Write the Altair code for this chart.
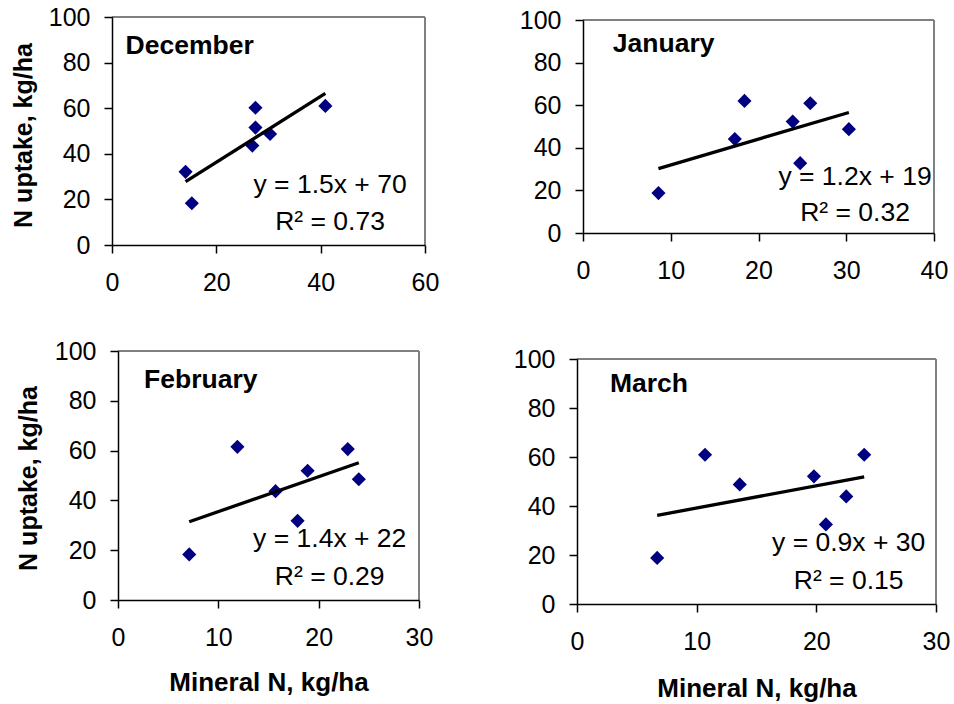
import altair as alt
import pandas as pd

W, H = 954, 704
FONT = "Liberation Sans"

# ---- data ----
months = ["December", "January", "February", "March"]
dec_x = [14.1, 15.3, 26.9, 27.5, 27.5, 30.3, 40.9]
dec_y = [32.1, 18.3, 43.6, 51.5, 60.2, 48.7, 61.0]
jan_x = [8.6, 17.3, 18.4, 23.9, 24.75, 25.9, 30.3]
jan_y = [18.75, 44.1, 62.0, 52.3, 32.8, 60.9, 48.75]
feb_x = [7.1, 11.9, 15.7, 17.9, 18.9, 22.9, 24.0]
feb_y = [18.3, 61.5, 43.7, 31.8, 51.9, 60.6, 48.5]
mar_x = [6.7, 10.7, 13.6, 19.8, 20.8, 22.5, 24.0]
mar_y = [18.8, 60.9, 48.8, 52.1, 32.5, 43.9, 60.9]
x_max = [60, 40, 30, 30]
x_ticks = [[0, 20, 40, 60], [0, 10, 20, 30, 40], [0, 10, 20, 30], [0, 10, 20, 30]]
y_ticks = [0, 20, 40, 60, 80, 100]
equations = ["y = 1.5x + 70", "y = 1.2x + 19", "y = 1.4x + 22", "y = 0.9x + 30"]
r_squared = ["R² = 0.73", "R² = 0.32", "R² = 0.29", "R² = 0.15"]
x_title = "Mineral N, kg/ha"
y_title = "N uptake, kg/ha"

# ---- layout (pixels of each plot area, annotation anchors in data units) ----
plot_x = [(112, 425), (583, 934), (118, 419), (577, 936)]
plot_y = [(245, 17), (233, 20), (600, 351), (604, 359)]
month_pos = [(2.6, 83.8), (3.4, 85.1), (2.6, 85.3), (2.75, 86.4)]
eq_x = [41.8, 31.0, 21.1, 22.7]
eq_y1 = [22.8, 22.6, 21.1, 21.5]
eq_y2 = [6.6, 5.4, 6.0, 6.1]
show_x_title = [False, False, True, True]
show_y_title = [True, False, True, False]
y_title_pos = [(31, 135), None, (36, 478), None]
x_title_base = [None, None, 690, 696]

series = [(dec_x, dec_y), (jan_x, jan_y), (feb_x, feb_y), (mar_x, mar_y)]


def panel(i):
    xs, ys = series[i]
    df = pd.DataFrame({"x": xs, "y": ys})
    px, py = plot_x[i], plot_y[i]

    xaxis_kw = dict(
        orient="bottom", offset=py[0] - H, values=x_ticks[i], grid=False,
        domainColor="black", domainWidth=1.5, tickColor="black", tickWidth=1.5,
        tickSize=8, labelFontSize=25, labelFont=FONT, labelColor="black",
        labelPadding=17, labelFlush=False, labelOverlap=False, zindex=1,
    )
    if show_x_title[i]:
        xaxis_kw.update(title=x_title, titleFont=FONT, titleFontSize=26,
                        titleFontWeight="bold", titleColor="black",
                        titleY=x_title_base[i] - py[0], titleBaseline="alphabetic")
    else:
        xaxis_kw.update(title=None)
    yaxis_kw = dict(
        orient="left", offset=-px[0], values=y_ticks, grid=False,
        domainColor="black", domainWidth=1.5, tickColor="black", tickWidth=1.5,
        tickSize=8, labelFontSize=25, labelFont=FONT, labelColor="black",
        labelPadding=14, labelFlush=False, labelOverlap=False, zindex=1,
    )
    if show_y_title[i]:
        tx, ty = y_title_pos[i]
        yaxis_kw.update(title=y_title, titleFont=FONT, titleFontSize=25,
                        titleFontWeight="bold", titleColor="black",
                        titleX=tx - px[0], titleY=ty, titleBaseline="alphabetic",
                        titleAngle=270)
    else:
        yaxis_kw.update(title=None)

    xs_scale = alt.Scale(domain=[0, x_max[i]], range=list(px), nice=False, zero=False)
    ys_scale = alt.Scale(domain=[0, 100], range=list(py), nice=False, zero=False)
    X = alt.X("x:Q", scale=xs_scale, axis=alt.Axis(**xaxis_kw))
    Y = alt.Y("y:Q", scale=ys_scale, axis=alt.Axis(**yaxis_kw))

    one = pd.DataFrame({"k": [0]})
    top = alt.Chart(one).mark_rule(color="#808080", strokeWidth=2).encode(
        x=alt.datum(0), x2=alt.datum(x_max[i]), y=alt.datum(100))
    right = alt.Chart(one).mark_rule(color="#808080", strokeWidth=2).encode(
        x=alt.datum(x_max[i]), y=alt.datum(0), y2=alt.datum(100))
    pts = alt.Chart(df).mark_point(shape="diamond", filled=True, size=200,
                                   color="#000080", opacity=1).encode(x=X, y=Y)
    line = alt.Chart(df).transform_regression("x", "y").mark_line(
        color="black", strokeWidth=3.3).encode(x=X, y=Y)
    mtxt = alt.Chart(one).mark_text(text=months[i], font=FONT, fontSize=26.5,
                                    fontWeight="bold", align="left",
                                    baseline="alphabetic", color="black").encode(
        x=alt.datum(month_pos[i][0]), y=alt.datum(month_pos[i][1]))
    e1 = alt.Chart(one).mark_text(text=equations[i], font=FONT, fontSize=26.5,
                                  align="center", baseline="alphabetic",
                                  color="black").encode(
        x=alt.datum(eq_x[i]), y=alt.datum(eq_y1[i]))
    e2 = alt.Chart(one).mark_text(text=r_squared[i], font=FONT, fontSize=26.5,
                                  align="center", baseline="alphabetic",
                                  color="black").encode(
        x=alt.datum(eq_x[i]), y=alt.datum(eq_y2[i]))
    return alt.layer(pts, top, right, line, mtxt, e1, e2)


chart = alt.layer(*[panel(i) for i in range(4)]).resolve_scale(
    x="independent", y="independent"
).resolve_axis(
    x="independent", y="independent"
).properties(
    width=W, height=H, padding=0, autosize=alt.AutoSizeParams(type="none")
).configure_view(strokeWidth=0)

chart.save("out.html", embed_options={"renderer": "svg", "actions": False})
